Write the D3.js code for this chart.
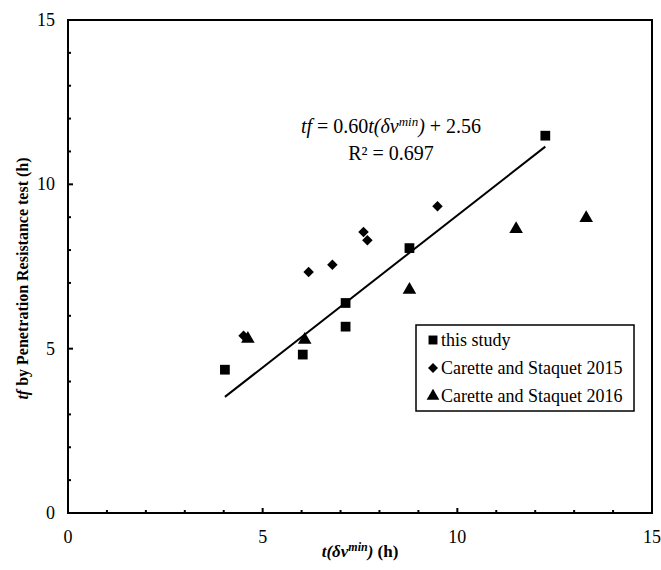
<!DOCTYPE html>
<html>
<head>
<meta charset="utf-8">
<script src="https://cdn.jsdelivr.net/npm/d3@7.9.0/dist/d3.min.js"></script>
<style>
  body { margin: 0; background: #fff; }
</style>
</head>
<body>
<svg id="chart" width="661" height="570"></svg>
<script>
// this study
const studyX = [4.03, 6.03, 7.13, 7.13, 8.77, 12.26];
const studyY = [4.36, 4.82, 5.67, 6.39, 8.06, 11.48];
// Carette and Staquet 2015
const c2015X = [4.51, 6.18, 6.79, 7.59, 7.69, 9.49];
const c2015Y = [5.39, 7.33, 7.55, 8.55, 8.30, 9.33];
// Carette and Staquet 2016
const c2016X = [4.62, 6.08, 8.77, 11.51, 13.31];
const c2016Y = [5.30, 5.27, 6.79, 8.64, 8.97];

const xTicks = [0, 5, 10, 15];
const yTicks = [0, 5, 10, 15];
const legendLabels = ["this study", "Carette and Staquet 2015", "Carette and Staquet 2016"];

const serif = "'Liberation Serif', 'DejaVu Serif', 'Times New Roman', serif";
const svg = d3.select("#chart").attr("font-family", serif);
const pLeft = 68, pRight = 652, pTop = 20, pBottom = 513;

const x = d3.scaleLinear().domain([0, 15]).range([pLeft, pRight]);
const y = d3.scaleLinear().domain([0, 15]).range([pBottom, pTop]);

// frame
svg.append("rect")
  .attr("x", pLeft).attr("y", pTop)
  .attr("width", pRight - pLeft).attr("height", pBottom - pTop)
  .attr("fill", "none").attr("stroke", "#000").attr("stroke-width", 2);

// inward ticks, minor every 1
d3.range(1, 15).forEach(v => {
  const len = v % 5 === 0 ? 5 : 3;
  svg.append("line")
    .attr("x1", x(v)).attr("x2", x(v))
    .attr("y1", pBottom).attr("y2", pBottom - len)
    .attr("stroke", "#000").attr("stroke-width", 2);
  svg.append("line")
    .attr("x1", pLeft).attr("x2", pLeft + len)
    .attr("y1", y(v)).attr("y2", y(v))
    .attr("stroke", "#000").attr("stroke-width", 2);
});

// tick labels
svg.selectAll(".xt").data(xTicks).enter().append("text")
  .attr("x", d => x(d)).attr("y", pBottom + 30)
  .attr("text-anchor", "middle").attr("font-size", 18)
  .text(d => d);
svg.selectAll(".yt").data(yTicks).enter().append("text")
  .attr("x", pLeft - 13).attr("y", d => y(d) + 6)
  .attr("text-anchor", "end").attr("font-size", 18)
  .text(d => d);

// axis titles
const xt = svg.append("text")
  .attr("x", (pLeft + pRight) / 2).attr("y", 557)
  .attr("text-anchor", "middle").attr("font-size", 17).attr("font-weight", "bold");
xt.append("tspan").attr("font-style", "italic").text("t(δv");
xt.append("tspan").attr("font-style", "italic").attr("font-size", 12).attr("dy", -6).text("min");
xt.append("tspan").attr("font-style", "italic").attr("dy", 6).text(")");
xt.append("tspan").text(" (h)");

const yt = svg.append("text")
  .attr("transform", `translate(28,${(pTop + pBottom) / 2 + 12}) rotate(-90)`)
  .attr("text-anchor", "middle").attr("font-size", 16).attr("font-weight", "bold");
yt.append("tspan").attr("font-style", "italic").text("tf");
yt.append("tspan").text(" by Penetration Resistance test  (h)");

// regression line from this study
const mx = d3.mean(studyX), my = d3.mean(studyY);
const slope = d3.sum(studyX, (v, i) => (v - mx) * (studyY[i] - my)) / d3.sum(studyX, v => (v - mx) ** 2);
const icpt = my - slope * mx;
const [x0, x1] = d3.extent(studyX);
svg.append("line")
  .attr("x1", x(x0)).attr("y1", y(slope * x0 + icpt))
  .attr("x2", x(x1)).attr("y2", y(slope * x1 + icpt))
  .attr("stroke", "#000").attr("stroke-width", 2);

// equation
const eq = svg.append("text").attr("x", 391).attr("y", 133)
  .attr("text-anchor", "middle").attr("font-size", 20);
eq.append("tspan").attr("font-style", "italic").text("tf");
eq.append("tspan").text(" = 0.60");
eq.append("tspan").attr("font-style", "italic").text("t(δv");
eq.append("tspan").attr("font-style", "italic").attr("font-size", 13).attr("dy", -7).text("min");
eq.append("tspan").attr("font-style", "italic").attr("dy", 7).text(")");
eq.append("tspan").text(" + 2.56");
svg.append("text").attr("x", 391).attr("y", 160)
  .attr("text-anchor", "middle").attr("font-size", 20).text("R² = 0.697");

// markers
const symSquare = d3.symbol().type(d3.symbolSquare).size(95);
const symDiamond = d3.symbol().type(d3.symbolSquare).size(55);
const symTriangle = d3.symbol().type(d3.symbolTriangle).size(80);
const series = [
  { xs: studyX, ys: studyY, sym: symSquare, rot: 0 },
  { xs: c2015X, ys: c2015Y, sym: symDiamond, rot: 45 },
  { xs: c2016X, ys: c2016Y, sym: symTriangle, rot: 0 }
];
series.forEach(s => {
  svg.append("g").selectAll("path")
    .data(s.xs.map((v, i) => [v, s.ys[i]]))
    .enter().append("path")
    .attr("d", s.sym())
    .attr("transform", d => `translate(${x(d[0])},${y(d[1])}) rotate(${s.rot})`)
    .attr("fill", "#000");
});

// legend
svg.append("rect").attr("x", 416).attr("y", 325).attr("width", 218).attr("height", 86)
  .attr("fill", "#fff").attr("stroke", "#000").attr("stroke-width", 1.5);
const legSyms = [
  { s: d3.symbol().type(d3.symbolSquare).size(80), rot: 0 },
  { s: d3.symbol().type(d3.symbolSquare).size(50), rot: 45 },
  { s: d3.symbol().type(d3.symbolTriangle).size(70), rot: 0 }
];
legendLabels.forEach((lab, i) => {
  const ly = 340 + i * 28;
  svg.append("path").attr("d", legSyms[i].s())
    .attr("transform", `translate(433,${ly}) rotate(${legSyms[i].rot})`).attr("fill", "#000");
  svg.append("text").attr("x", 441).attr("y", ly + 6).attr("font-size", 18).text(lab);
});
</script>
</body>
</html>
